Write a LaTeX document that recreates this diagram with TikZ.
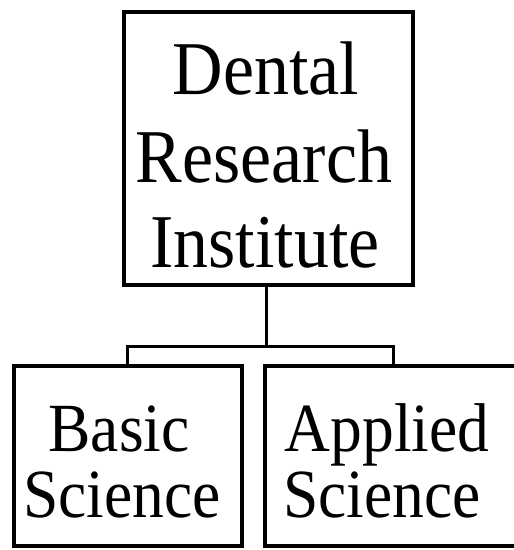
\documentclass[tikz,border=0pt]{standalone}
\usepackage{fontspec}
\setmainfont{Liberation Serif}[FakeStretch=0.92]
\begin{document}
\begin{tikzpicture}[x=1pt,y=-1pt,
  boxline/.style={draw=black,line width=3.2pt},
  toptext/.style={align=center,font=\fontsize{76}{86}\selectfont,inner sep=0pt,anchor=base},
  bottext/.style={align=center,font=\fontsize{69}{66}\selectfont,inner sep=0pt,anchor=base},
  conn/.style={draw=black,line width=3pt}]
\useasboundingbox (0,0) rectangle (514,550);
\clip (0,0) rectangle (514,550);
% boxes
\node[boxline,minimum width=289pt,minimum height=273pt,inner sep=0pt] (top) at (268.5,148.5) {};
\node[boxline,minimum width=228pt,minimum height=180pt,inner sep=0pt] (left) at (128,456) {};
\node[boxline,minimum width=270pt,minimum height=180pt,inner sep=0pt] (right) at (400,456) {};
% texts
\node[toptext] (t1) at (266,94) {Dental};
\node[toptext] (t2) at (264,182) {Research};
\node[toptext] (t3) at (265,267) {Institute};
\node[bottext] (l1) at (119,451) {Basic};
\node[bottext] (l2) at (122,517) {Science};
\node[bottext] (r1) at (387,451) {Applied};
\node[bottext] (r2) at (382,517) {Science};
% connectors
\coordinate (j) at (266,346);
\coordinate (jl) at (127,346);
\coordinate (jr) at (393,346);
\draw[conn] (top.south -| j) -- (j);
\draw[conn,line join=miter] (left.north -| jl) -- (jl) -- (jr) -- (right.north -| jr);
\end{tikzpicture}
\end{document}
